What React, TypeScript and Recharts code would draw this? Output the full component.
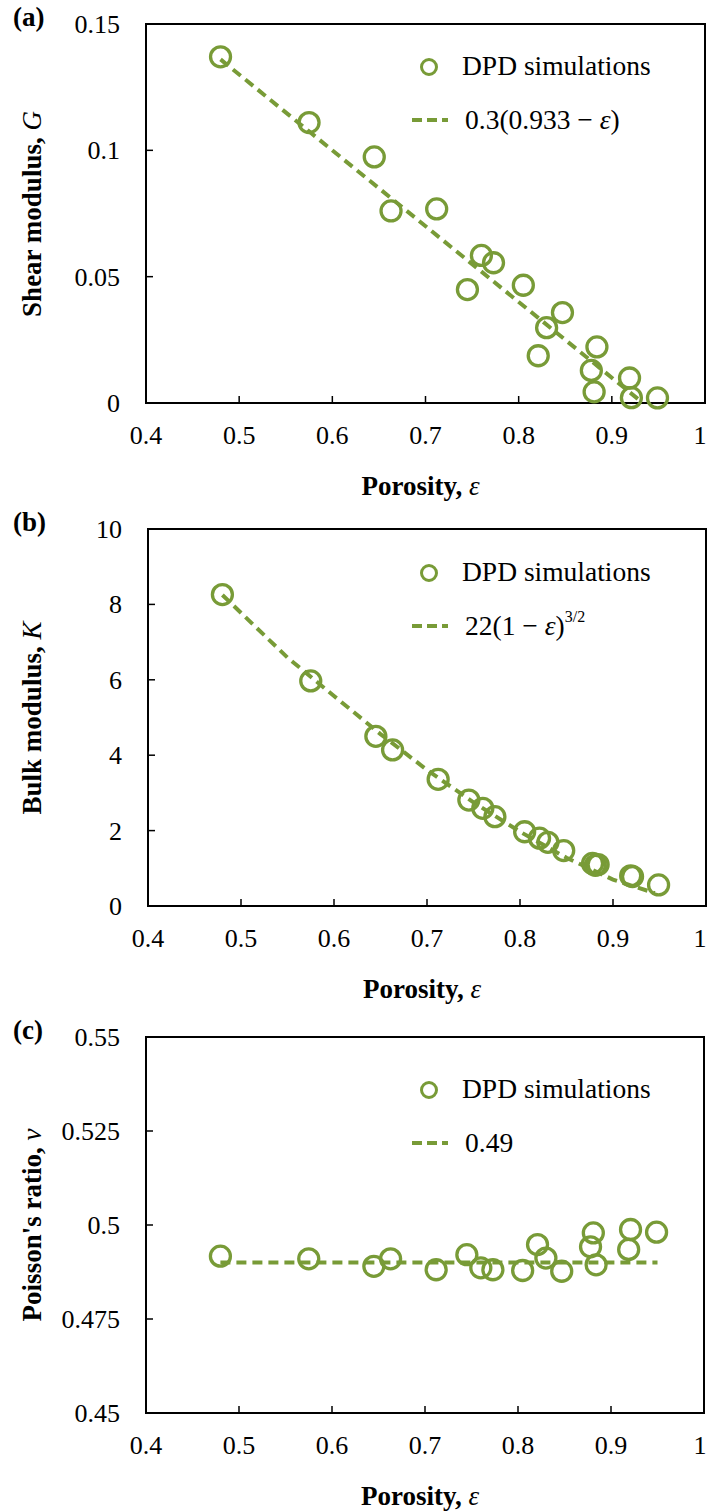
import { ComposedChart, Scatter, Line, XAxis, YAxis, ReferenceArea, Legend } from "recharts";

// porosity of every DPD sample (shared by the three panels)
const porosity = [0.48, 0.575, 0.645, 0.663, 0.712, 0.745, 0.76, 0.773, 0.805, 0.821, 0.83, 0.847, 0.878, 0.881, 0.884, 0.919, 0.921, 0.949];
const shearG = [0.137, 0.111, 0.0974, 0.076, 0.0768, 0.0449, 0.0584, 0.0555, 0.0466, 0.0187, 0.0298, 0.0358, 0.0129, 0.0044, 0.0222, 0.0099, 0.0021, 0.002];
const bulkK = [8.26, 5.97, 4.5, 4.14, 3.36, 2.81, 2.59, 2.37, 1.97, 1.8, 1.69, 1.47, 1.13, 1.08, 1.1, 0.8, 0.78, 0.56];
const poissonNu = [0.4917, 0.491, 0.489, 0.491, 0.4881, 0.4921, 0.4886, 0.4881, 0.4879, 0.4948, 0.4912, 0.4877, 0.4942, 0.4979, 0.4894, 0.4935, 0.4988, 0.4981];

// dashed fit lines
const fitGx = [0.48, 0.93];
const fitGy = [0.136, 0.001];
const fitKx = [0.48, 0.55, 0.6, 0.65, 0.7, 0.75, 0.8, 0.85, 0.9, 0.945];
const fitKy = [8.25, 6.59, 5.57, 4.56, 3.61, 2.75, 1.97, 1.28, 0.7, 0.34];
const fitNux = [0.48, 0.95];
const fitNuy = [0.49, 0.49];

const xTicks = [0.4, 0.5, 0.6, 0.7, 0.8, 0.9, 1];
const gTicks = [0, 0.05, 0.1, 0.15];
const kTicks = [0, 2, 4, 6, 8, 10];
const nuTicks = [0.45, 0.475, 0.5, 0.525, 0.55];

const GREEN = "#789b37";
const FONT = "'Liberation Serif', 'Times New Roman', serif";

function Circle(props: any) {
  const { cx, cy } = props;
  if (cx == null || cy == null) return null;
  return <circle cx={cx} cy={cy} r={10} fill="none" stroke={GREEN} strokeWidth={3.3} />;
}

// ticks point into the plot, labels sit outside
function XTick(props: any) {
  const { x, y, payload } = props;
  // keep the last label ("1") inside the page edge
  const tx = Math.min(x, 700);
  return (
    <g>
      <line x1={x} x2={x} y1={y} y2={y - 7} stroke="#000" strokeWidth={1.5} />
      <text x={tx} y={y + 41} textAnchor="middle" fontSize={26} fontFamily={FONT} fill="#000">
        {String(payload.value)}
      </text>
    </g>
  );
}

function YTick(props: any) {
  const { x, y, payload } = props;
  return (
    <g>
      <line x1={x} x2={x + 7} y1={y} y2={y} stroke="#000" strokeWidth={1.5} />
      <text x={x - 26} y={y + 9} textAnchor="end" fontSize={26} fontFamily={FONT} fill="#000">
        {String(payload.value)}
      </text>
    </g>
  );
}

interface PanelProps {
  top: number;
  height: number;
  margin: { top: number; right: number; bottom: number; left: number };
  tag: string;
  yTitle: string;
  yVar: string;
  ys: number[];
  fx: number[];
  fy: number[];
  yDomain: [number, number];
  yTicks: number[];
  legendTop: number;
  formula: React.ReactNode;
}

function Panel({ top, height, margin, tag, yTitle, yVar, ys, fx, fy, yDomain, yTicks, legendTop, formula }: PanelProps) {
  const pts = porosity.map((x, i) => ({ x, y: ys[i] }));
  const fit = fx.map((x, i) => ({ x, y: fy[i] }));
  const plotBottom = height - margin.bottom;
  const plotMid = (margin.top + plotBottom) / 2;
  const plotCenterX = (margin.left + 709 - margin.right) / 2;

  return (
    <div style={{ position: "absolute", left: 0, top, width: 709, height, fontFamily: FONT }}>
      <ComposedChart
        width={709}
        height={height}
        margin={{ top: margin.top, right: margin.right, bottom: margin.bottom - 60, left: margin.left - 100 }}
      >
        <XAxis
          type="number"
          dataKey="x"
          domain={[0.4, 1]}
          ticks={xTicks}
          height={60}
          axisLine={false}
          tickLine={false}
          tickSize={0}
          tickMargin={0}
          tick={<XTick />}
          interval={0}
        />
        <YAxis
          type="number"
          dataKey="y"
          domain={yDomain}
          ticks={yTicks}
          width={100}
          axisLine={false}
          tickLine={false}
          tickSize={0}
          tickMargin={0}
          tick={<YTick />}
          interval={0}
        />
        <ReferenceArea
          x1={0.4}
          x2={1}
          y1={yDomain[0]}
          y2={yDomain[1]}
          fill="none"
          fillOpacity={0}
          stroke="#000"
          strokeWidth={2}
          ifOverflow="visible"
        />
        <Line
          data={fit}
          dataKey="y"
          type="linear"
          stroke={GREEN}
          strokeWidth={4}
          strokeDasharray="10 6"
          dot={false}
          activeDot={false}
          isAnimationActive={false}
        />
        <Scatter data={pts} shape={<Circle />} isAnimationActive={false} />
        <Legend
          layout="vertical"
          align="center"
          verticalAlign="middle"
          wrapperStyle={{ left: 380, top: legendTop, width: 320 }}
          content={() => (
            <svg width={320} height={100} style={{ display: "block" }}>
              <circle cx={49} cy={27} r={7.5} fill="none" stroke={GREEN} strokeWidth={3} />
              <text x={82} y={35} fontSize={27.5} fontFamily={FONT} fill="#000">
                DPD simulations
              </text>
              <line x1={32} x2={68} y1={80} y2={80} stroke={GREEN} strokeWidth={4} strokeDasharray="10 5" />
              <text x={85} y={89} fontSize={27.5} fontFamily={FONT} fill="#000">
                {formula}
              </text>
            </svg>
          )}
        />
      </ComposedChart>

      <div style={{ position: "absolute", left: 13, top: margin.top - 22, fontSize: 27, fontWeight: "bold", lineHeight: "30px" }}>
        {tag}
      </div>
      <div
        style={{
          position: "absolute",
          left: 32,
          top: plotMid,
          transform: "translate(-50%, -50%) rotate(-90deg)",
          whiteSpace: "nowrap",
          fontSize: 27,
          fontWeight: "bold",
          lineHeight: "30px",
        }}
      >
        {yTitle}
        <span style={{ fontStyle: "italic", fontWeight: "normal" }}>{yVar}</span>
      </div>
      <div
        style={{
          position: "absolute",
          left: plotCenterX - 5,
          top: plotBottom + 97,
          transform: "translate(-50%, -100%)",
          whiteSpace: "nowrap",
          fontSize: 27,
          fontWeight: "bold",
          lineHeight: "27px",
        }}
      >
        Porosity, <span style={{ fontStyle: "italic", fontWeight: "normal" }}>ε</span>
      </div>
    </div>
  );
}

export default function App() {
  return (
    <div style={{ position: "relative", width: 709, height: 1511, background: "#fff" }}>
      <style>{"body{margin:0}"}</style>
      <Panel
        top={0}
        height={480}
        margin={{ top: 24, right: 4, bottom: 77, left: 146 }}
        tag="(a)"
        yTitle="Shear modulus, "
        yVar="G"
        ys={shearG}
        fx={fitGx}
        fy={fitGy}
        yDomain={[0, 0.15]}
        yTicks={gTicks}
        legendTop={40}
        formula={
          <>
            0.3(0.933 − <tspan fontStyle="italic">ε</tspan>)
          </>
        }
      />
      <Panel
        top={480}
        height={505}
        margin={{ top: 49, right: 3, bottom: 79, left: 148 }}
        tag="(b)"
        yTitle="Bulk modulus, "
        yVar="K"
        ys={bulkK}
        fx={fitKx}
        fy={fitKy}
        yDomain={[0, 10]}
        yTicks={kTicks}
        legendTop={66}
        formula={
          <>
            22(1 − <tspan fontStyle="italic">ε</tspan>)
            <tspan fontSize={16} dy={-13}>3/2</tspan>
          </>
        }
      />
      <Panel
        top={985}
        height={526}
        margin={{ top: 52, right: 5, bottom: 98, left: 146 }}
        tag="(c)"
        yTitle="Poisson's ratio, "
        yVar="ν"
        ys={poissonNu}
        fx={fitNux}
        fy={fitNuy}
        yDomain={[0.45, 0.55]}
        yTicks={nuTicks}
        legendTop={78}
        formula={<>0.49</>}
      />
    </div>
  );
}
